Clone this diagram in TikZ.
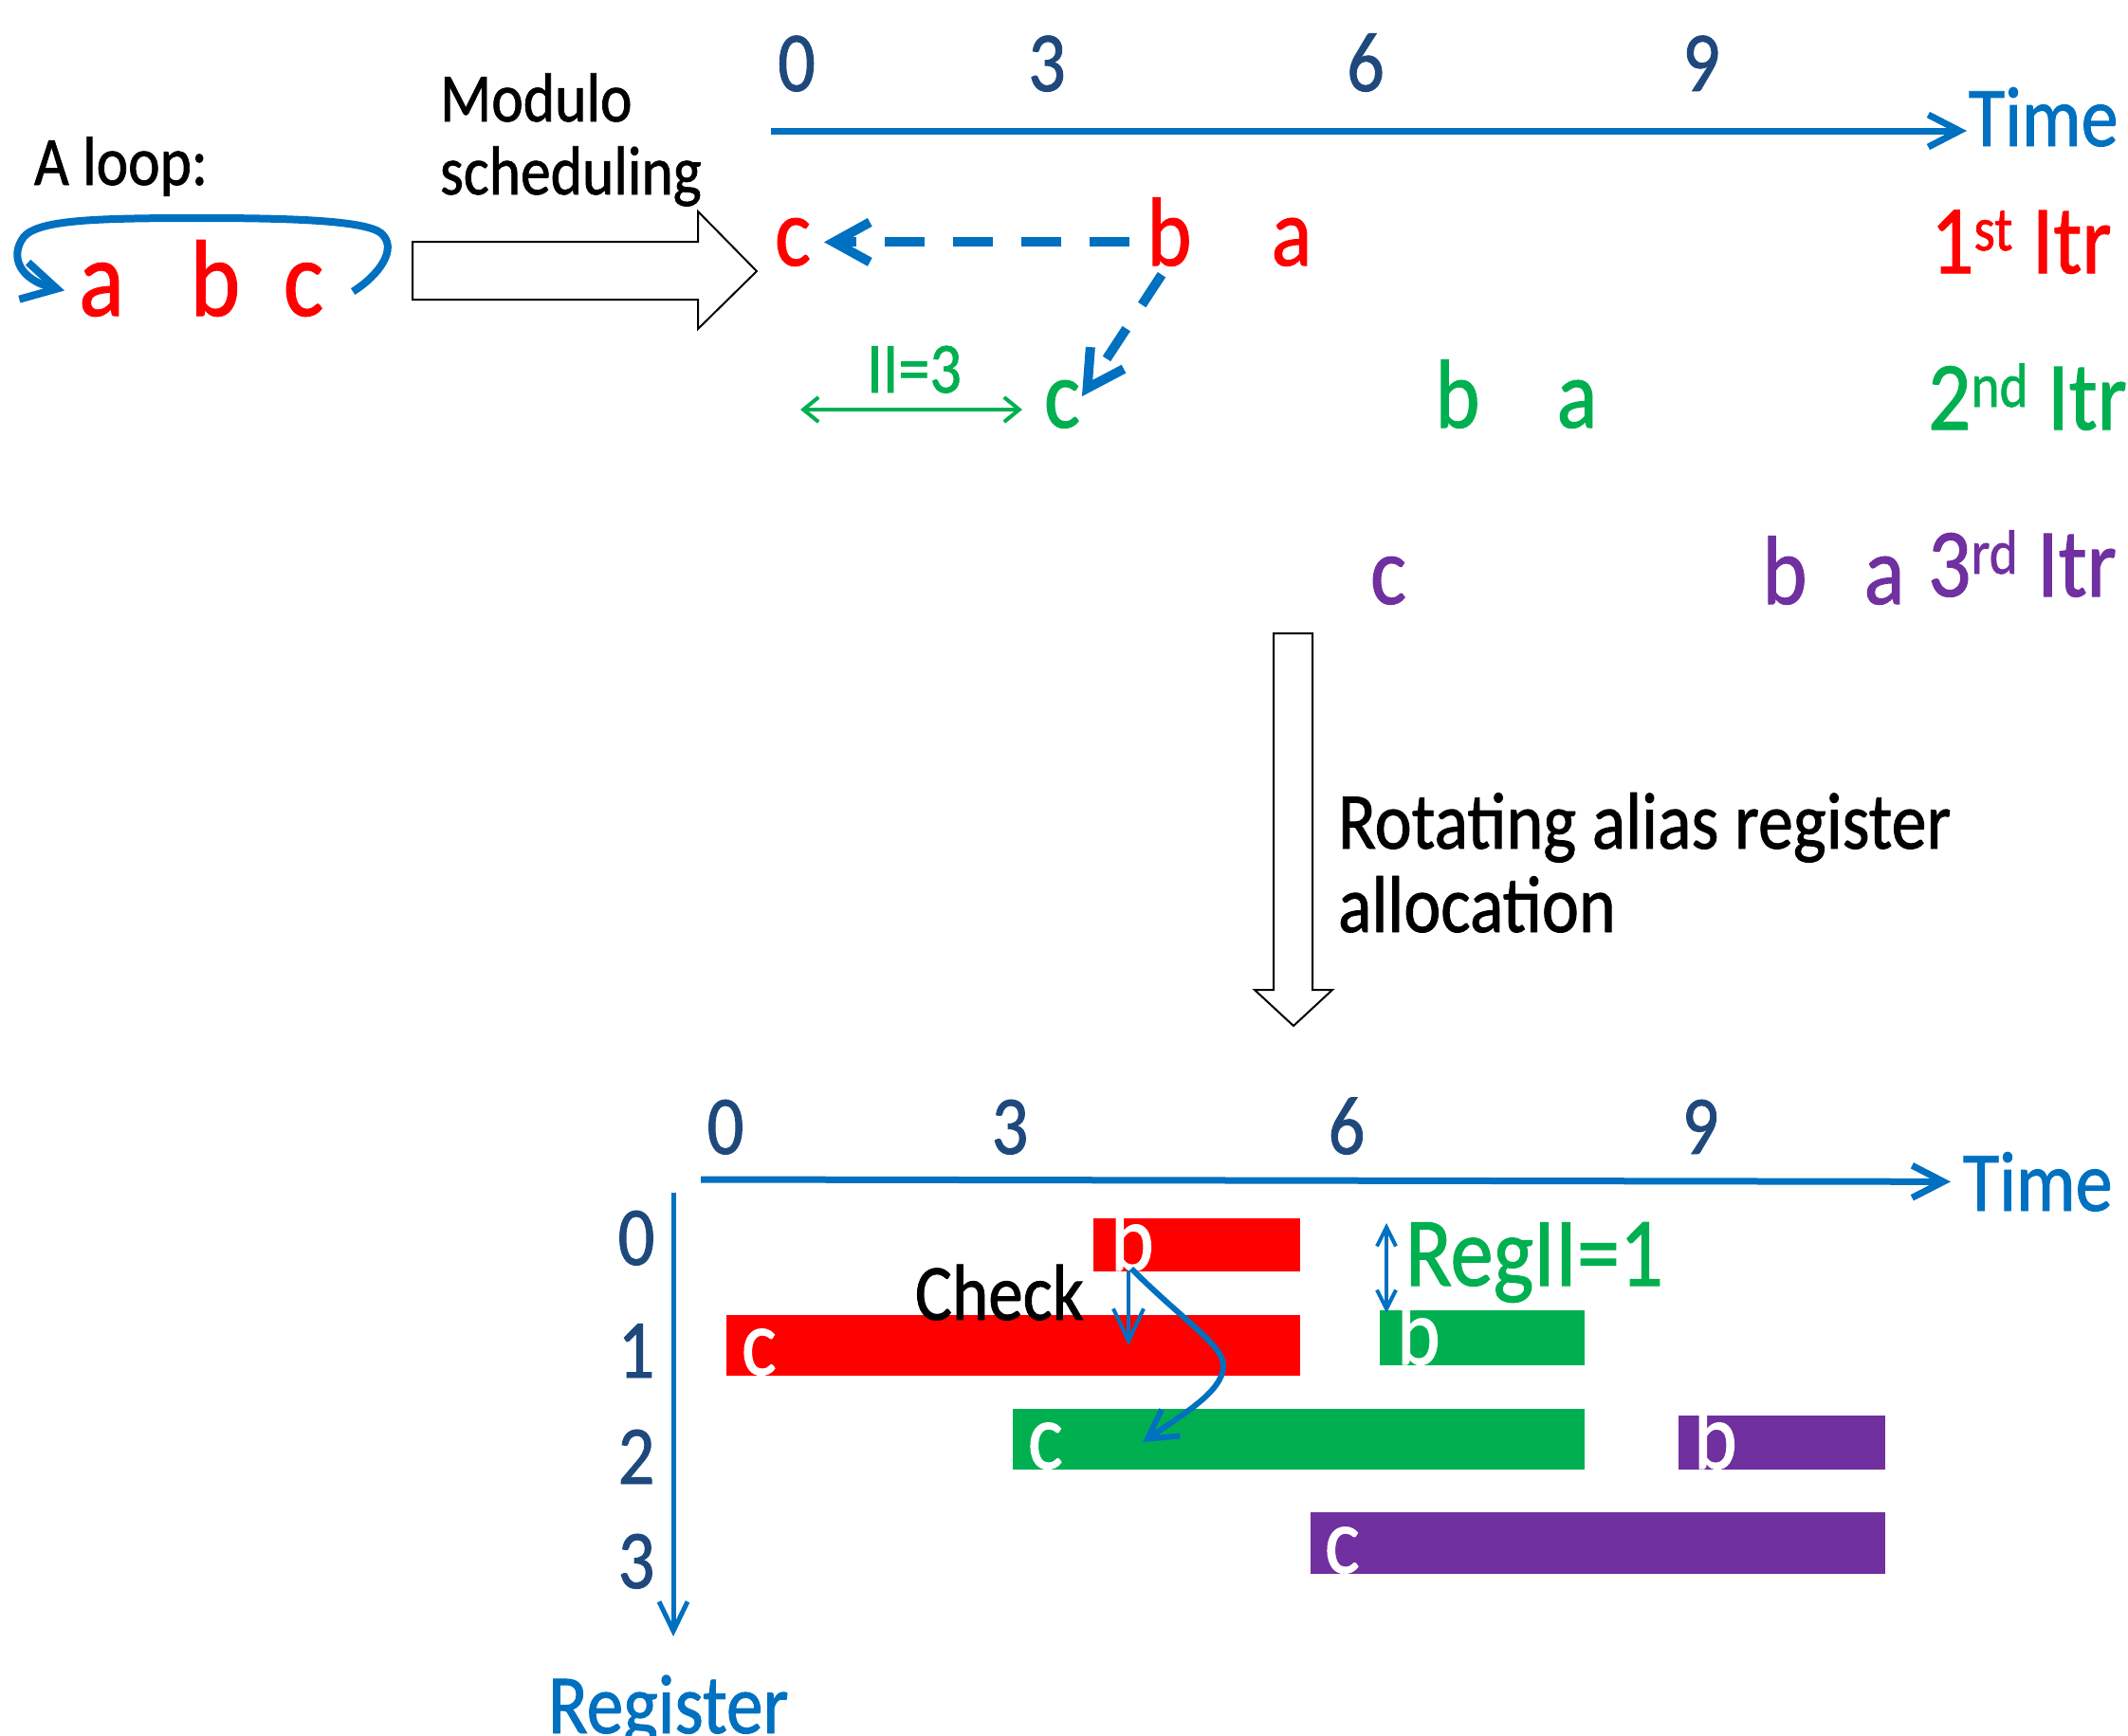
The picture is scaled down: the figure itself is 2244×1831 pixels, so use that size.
\documentclass[tikz,border=0pt]{standalone}
\usepackage{fontspec}
\setmainfont[FakeStretch=0.87,FakeBold=1]{Carlito}
\usetikzlibrary{arrows.meta,calc}
\definecolor{cred}{RGB}{255,0,0}
\definecolor{cgreen}{RGB}{0,176,80}
\definecolor{cpurple}{RGB}{112,48,160}
\definecolor{cblue}{RGB}{0,112,192}
\definecolor{cnavy}{RGB}{31,73,125}
\newcommand\myfs[1]{\fontsize{#1}{#1}\selectfont}
\begin{document}
\begin{tikzpicture}[x=1pt,y=-1pt,
  txt/.style={inner sep=0pt,outer sep=0pt,anchor=base},
  txtl/.style={inner sep=0pt,outer sep=0pt,anchor=base west},
  num/.style={txt,font=\myfs{90},text=cnavy},
  itr/.style={txt,font=\myfs{103}},
  itrlab/.style={txtl,font=\myfs{103}},
  bar/.style={rectangle,draw=none,inner sep=0pt,outer sep=0pt,anchor=north west},
  wl/.style={txtl,font=\myfs{100},text=white},
  axisln/.style={draw=cblue,line width=7pt,-{Straight Barb[length=33pt,width=34pt]}},
  dasharr/.style={draw=cblue,line width=10pt,dash pattern=on 42pt off 30pt,-{Straight Barb[length=38pt,width=42pt]}},
  looparr/.style={draw=cblue,line width=8pt,-{Straight Barb[length=36pt,width=40pt]}},
  thinarr/.style={draw=cblue,line width=4pt},
  blockar/.style={draw=black,line width=2pt,fill=white,line join=miter},
]
\useasboundingbox (0,0) rectangle (2244,1831);

% ---------- top left: the loop ----------
\node[txtl,font=\myfs{73}] (loopl) at (36,195) {A loop:};
\node[txtl,font=\myfs{73}] (mod1) at (464,128) {Modulo};
\node[txtl,font=\myfs{73}] (mod2) at (464,205) {scheduling};
\node[txt,font=\myfs{115},text=cred] (la) at (107,333) {a};
\node[txt,font=\myfs{115},text=cred] (lb) at (227,333) {b};
\node[txt,font=\myfs{115},text=cred] (lc) at (320,333) {c};
\draw[looparr] ($(lc.east)+(31,2)$) .. controls (400,290) and (420,262) .. (402,246)
  .. controls (385,232) and (300,230) .. (210,230)
  .. controls (100,230) and (40,232) .. (25,250)
  .. controls (10,270) and (20,295) .. ($(la.west)+(-15,1)$);

% block arrow right
\draw[blockar] (435,255) -- (736,255) -- (736,223) -- (798,286) -- (736,347) -- (736,316) -- (435,316) -- cycle;

% ---------- top schedule ----------
\node[num] (n0) at (840,96) {0};
\node[num] (n3) at (1104,96) {3};
\node[num] (n6) at (1440,96) {6};
\node[num] (n9) at (1794,96) {9};
\node[txtl,font=\myfs{90},text=cblue] (time1) at (2076,154) {Time};
\coordinate (t0) at (813,138);
\draw[axisln] (t0) -- ([xshift=-2pt]t0 -| time1.west);

\node[itr,text=cred] (c1) at (836,280) {c};
\node[itr,text=cred] (b1) at (1233,280) {b};
\node[itr,text=cred] (a1) at (1362,280) {a};
\node[itrlab,text=cred] (it1) at (2036,288) {1\raisebox{24pt}{\myfs{66}st} Itr};

\node[itr,text=cgreen] (c2) at (1120,451) {c};
\node[itr,text=cgreen] (b2) at (1537,451) {b};
\node[itr,text=cgreen] (a2) at (1663,451) {a};
\node[itrlab,text=cgreen] (it2) at (2033,453) {2\raisebox{24pt}{\myfs{66}nd} Itr};

\node[itr,text=cpurple] (c3) at (1464,637) {c};
\node[itr,text=cpurple] (b3) at (1882,637) {b};
\node[itr,text=cpurple] (a3) at (1987,637) {a};
\node[itrlab,text=cpurple] (it3) at (2033,629) {3\raisebox{24pt}{\myfs{66}rd} Itr};

\draw[dasharr,shorten <=18pt,shorten >=14pt] (b1.west |- c1.east) -- (c1.east);
\draw[dasharr,dash pattern=on 38pt off 30pt] ($(b1.south)+(-8,9)$) -- ($(c2.north east)+(2,17)$);

\node[txt,font=\myfs{76},text=cgreen] (ii) at (964,414) {II=3};
\coordinate (ii0) at (844,432);
\coordinate (ii1) at (1078,432);
\draw[draw=cgreen,line width=4pt,{Straight Barb[length=16pt,width=26pt]}-{Straight Barb[length=16pt,width=26pt]}] (ii0) -- (ii1);

% block arrow down
\draw[blockar] (1343,668) -- (1384,668) -- (1384,1044) -- (1405,1044) -- (1364,1082) -- (1323,1044) -- (1343,1044) -- cycle;
\node[txtl,font=\myfs{85}] (rot1) at (1411,895) {Rotating alias register};
\node[txtl,font=\myfs{85}] (rot2) at (1411,983) {allocation};

% ---------- bottom register chart ----------
\node[num,font=\myfs{88}] (m0) at (765,1217) {0};
\node[num,font=\myfs{88}] (m3) at (1065,1217) {3};
\node[num,font=\myfs{88}] (m6) at (1420,1217) {6};
\node[num,font=\myfs{88}] (m9) at (1793,1217) {9};
\node[txtl,font=\myfs{90},text=cblue] (time2) at (2070,1277) {Time};
\coordinate (b0) at (739,1244);
\draw[axisln] (b0) -- ([xshift=-13pt]time2.west);

\coordinate (r0) at (710,1258);
\coordinate (r1) at (710,1726);
\draw[draw=cblue,line width=5pt,-{Straight Barb[length=31pt,width=30pt]}] (r0) -- (r1);
\node[txtl,font=\myfs{89},text=cblue] (reg) at (578,1828) {Register};

\node[num,font=\myfs{88}] (r0l) at (671,1334) {0};
\node[num,font=\myfs{88}] (r1l) at (671,1453) {1};
\node[num,font=\myfs{88}] (r2l) at (671,1565) {2};
\node[num,font=\myfs{88}] (r3l) at (671,1675) {3};

\node[bar,fill=cred,minimum width=218pt,minimum height=56pt] (rb) at (1153,1285) {};
\node[bar,fill=cred,minimum width=605pt,minimum height=64pt] (rc) at (766,1387) {};
\node[bar,fill=cgreen,minimum width=216pt,minimum height=58pt] (gb) at (1455,1382) {};
\node[bar,fill=cgreen,minimum width=603pt,minimum height=64pt] (gc) at (1068,1486) {};
\node[bar,fill=cpurple,minimum width=218pt,minimum height=57pt] (pb) at (1770,1493) {};
\node[bar,fill=cpurple,minimum width=606pt,minimum height=65pt] (pc) at (1382,1595) {};

\node[wl] (rbl) at ($(rb.south west)+(18,-1)$) {b};
\node[wl] (rcl) at ($(rc.south west)+(16,-1)$) {c};
\node[wl] (gbl) at ($(gb.south west)+(18,-1)$) {b};
\node[wl] (gcl) at ($(gc.south west)+(16,-1)$) {c};
\node[wl] (pbl) at ($(pb.south west)+(16,-1)$) {b};
\node[wl] (pcl) at ($(pc.south west)+(15,-1)$) {c};

\node[txtl,font=\myfs{84}] (chk) at (965,1392) {Check};
\coordinate (ck0) at ($(rb.south west)+(37,-1)$);
\draw[thinarr,-{Straight Barb[length=34pt,width=32pt]}] (ck0) -- (ck0 |- rc.center);
\draw[draw=cblue,line width=6pt,-{Straight Barb[length=30pt,width=34pt]}]
  ($(rb.south west)+(40,-3)$) .. controls (1250,1395) and (1292,1420) .. (1290,1442)
  .. controls (1288,1468) and (1250,1490) .. ($(gc.west)+(137,3)$);

\draw[thinarr,{Straight Barb[length=20pt,width=20pt]}-{Straight Barb[length=20pt,width=20pt]}]
  ($(gb.north west)+(7,3)$) -- ($(gb.north west)+(7,-92)$);
\node[txtl,font=\myfs{104},text=cgreen] (regii) at (1482,1356) {RegII=1};
\end{tikzpicture}
\end{document}
